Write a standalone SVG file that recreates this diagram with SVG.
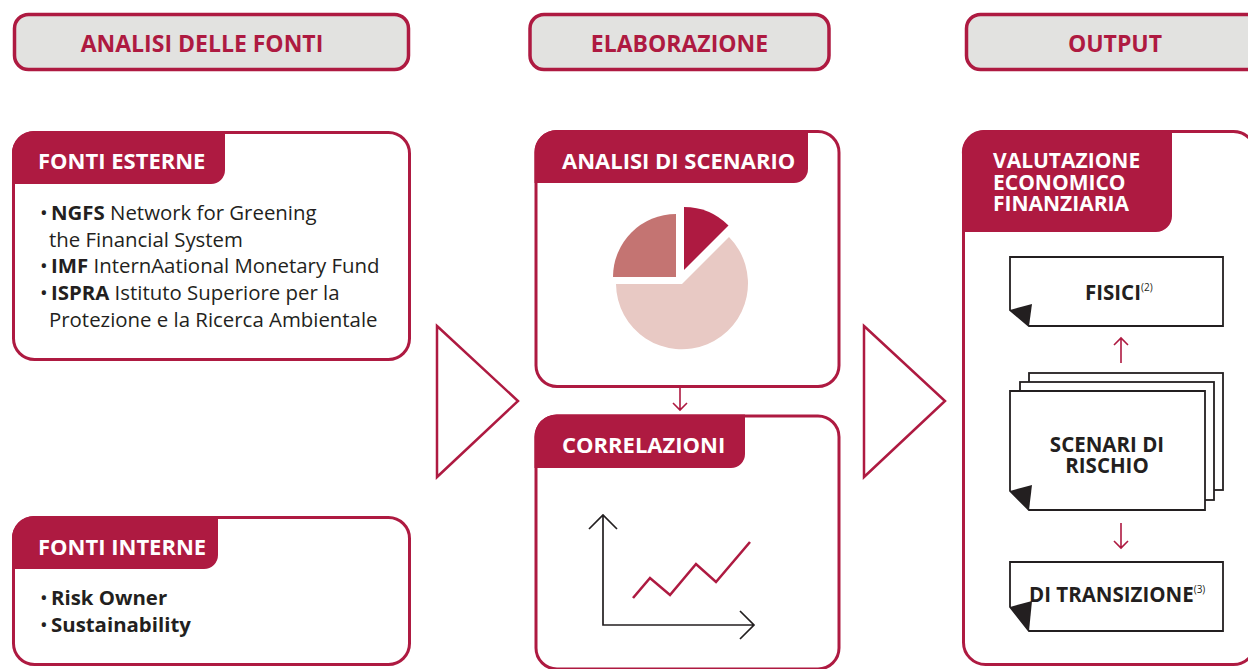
<svg xmlns="http://www.w3.org/2000/svg" width="1248" height="669" viewBox="0 0 1248 669">
<style>
.hdr{fill:#E2E2E0;stroke:#AE1A41;stroke-width:3.5}
.hdrt{font-family:"Open Sans","Liberation Sans",sans-serif;font-weight:700;font-size:23px;fill:#AE1A41;text-anchor:middle}
.box{fill:#fff;stroke:#AE1A41;stroke-width:3}
.tab{fill:#AE1A41}
.tabt{font-family:"Open Sans","Liberation Sans",sans-serif;font-weight:700;font-size:22px;fill:#fff}
.tabv{font-family:"Open Sans","Liberation Sans",sans-serif;font-weight:700;font-size:21px;fill:#fff}
.body{font-family:"Open Sans","Liberation Sans",sans-serif;font-size:20.4px;fill:#231F20}
.b{font-weight:700}
.page{fill:#fff;stroke:#231F20;stroke-width:1.8;stroke-linejoin:miter}
.curl{fill:#231F20}
.doct{font-family:"Open Sans","Liberation Sans",sans-serif;font-weight:700;font-size:20.5px;fill:#231F20}
.sup{font-weight:400;font-size:10px}
.tri{fill:none;stroke:#AE1A41;stroke-width:2.5}
.sarr{fill:none;stroke:#AE1A41;stroke-width:1.6}
.axis{fill:none;stroke:#231F20;stroke-width:1.7}
</style>

<g id="header-analisi">
<rect class="hdr" x="14.5" y="14.5" width="394" height="55" rx="14"/>
<text class="hdrt" x="202" y="52">ANALISI DELLE FONTI</text>
</g>
<g id="header-elaborazione">
<rect class="hdr" x="530" y="14.5" width="299" height="55" rx="14"/>
<text class="hdrt" x="679.5" y="52">ELABORAZIONE</text>
</g>
<g id="header-output">
<rect class="hdr" x="966.5" y="14.5" width="299" height="55" rx="14"/>
<text class="hdrt" x="1115" y="52">OUTPUT</text>
</g>

<g id="fonti-esterne">
<rect class="box" x="13.5" y="132.5" width="396" height="227" rx="21"/>
<path class="tab" d="M12,154 A22,22 0 0 1 34,131 H225 V170 A14,14 0 0 1 211,184 H12 Z"/>
<text class="tabt" x="38" y="169">FONTI ESTERNE</text>
<text class="body" x="40" y="220">•<tspan x="51" class="b">NGFS</tspan> Network for Greening</text>
<text class="body" x="49" y="247">the Financial System</text>
<text class="body" x="40" y="273">•<tspan x="51" class="b">IMF</tspan> InternAational Monetary Fund</text>
<text class="body" x="40" y="300">•<tspan x="51" class="b">ISPRA</tspan> Istituto Superiore per la</text>
<text class="body" x="49" y="327">Protezione e la Ricerca Ambientale</text>
</g>

<g id="fonti-interne">
<rect class="box" x="13.5" y="517.5" width="396" height="147" rx="21"/>
<path class="tab" d="M12,539 A22,22 0 0 1 34,516 H218 V555 A14,14 0 0 1 204,569 H12 Z"/>
<text class="tabt" x="38" y="555">FONTI INTERNE</text>
<text class="body" x="40" y="605">•<tspan x="51" class="b">Risk Owner</tspan></text>
<text class="body" x="40" y="632">•<tspan x="51" class="b">Sustainability</tspan></text>
</g>

<g id="analisi-scenario">
<rect class="box" x="536" y="131.5" width="303" height="255" rx="21"/>
<path class="tab" d="M534.5,152 A22,22 0 0 1 556.5,130 H808 V169 A14,14 0 0 1 794,183 H534.5 Z"/>
<text class="tabt" x="562" y="169">ANALISI DI SCENARIO</text>
<path fill="#E8C9C4" d="M682,284 L729,237 A66,66 0 1 1 616,284 Z"/>
<path fill="#C47472" d="M676,277 L613,277 A63,63 0 0 1 676,214 Z"/>
<path fill="#AE1A41" d="M684,270 L684,207 A63,63 0 0 1 728.5,225.5 Z"/>
</g>

<g id="correlazioni">
<rect class="box" x="536" y="416" width="303" height="253" rx="21"/>
<path class="tab" d="M534.5,437 A22,22 0 0 1 556.5,414.5 H745 V454 A14,14 0 0 1 731,468 H534.5 Z"/>
<text class="tabt" x="562" y="453">CORRELAZIONI</text>
<path class="axis" d="M603,515 V625 H754 M589,529 L603,515 L617,529 M740,611 L754,625 L740,639"/>
<polyline fill="none" stroke="#AE1A41" stroke-width="2.6" points="633,598 650,578 670,595 696,564 716,582 750,542"/>
</g>

<g id="valutazione">
<rect class="box" x="963.5" y="131.5" width="292" height="533" rx="22"/>
<path class="tab" d="M962,154 A22,22 0 0 1 984,130 H1172 V216 A16,16 0 0 1 1156,232 H962 Z"/>
<text class="tabv" x="993" y="168">VALUTAZIONE</text>
<text class="tabv" x="993" y="190">ECONOMICO</text>
<text class="tabv" x="993" y="211">FINANZIARIA</text>
</g>

<g id="fisici">
<path class="page" d="M1010,257 H1223 V326 H1029 L1010,310 Z"/>
<path class="curl" d="M1010,310 L1032,304 L1029,326 Z"/>
<text class="doct" x="1085" y="300">FISICI<tspan class="sup" dy="-9">(2)</tspan></text>
</g>

<g id="scenari-rischio">
<rect class="page" x="1029" y="373" width="194" height="117"/>
<rect class="page" x="1020" y="382" width="194" height="118"/>
<path class="page" d="M1010,391 H1205 V510 H1029 L1010,491 Z"/>
<path class="curl" d="M1010,491 L1032,485 L1029,510 Z"/>
<text class="doct" x="1107" y="452" text-anchor="middle">SCENARI DI</text>
<text class="doct" x="1107" y="473" text-anchor="middle">RISCHIO</text>
</g>

<g id="transizione">
<path class="page" d="M1010,562 H1223 V631 H1029 L1010,607 Z"/>
<path class="curl" d="M1010,607 L1032,601 L1029,631 Z"/>
<text class="doct" x="1029" y="602">DI TRANSIZIONE<tspan class="sup" dy="-9">(3)</tspan></text>
</g>

<g id="connectors">
<polygon class="tri" points="437,326 518,401 437,477"/>
<polygon class="tri" points="864,326 945,401 864,477"/>
<path class="sarr" d="M680,388 V410 M673,403 L680,410 L687,403"/>
<path class="sarr" d="M1121,363 V338 M1114,345 L1121,338 L1128,345"/>
<path class="sarr" d="M1121,523 V548 M1114,541 L1121,548 L1128,541"/>
</g>
</svg>
